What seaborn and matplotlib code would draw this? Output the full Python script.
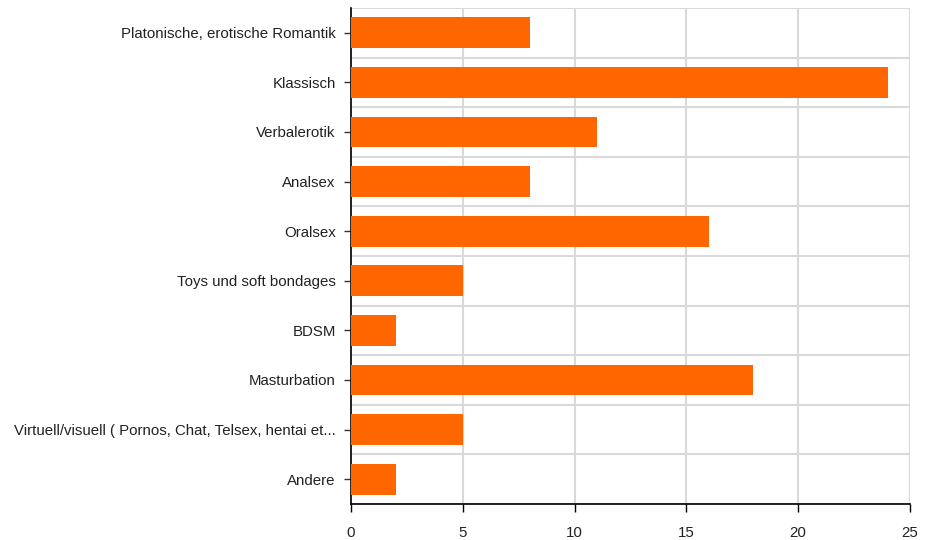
import matplotlib
matplotlib.use('Agg')
import matplotlib.pyplot as plt
import seaborn as sns
import pandas as pd
import numpy as np

categories = [
    'Platonische, erotische Romantik',
    'Klassisch',
    'Verbalerotik',
    'Analsex',
    'Oralsex',
    'Toys und soft bondages',
    'BDSM',
    'Masturbation',
    'Virtuell/visuell ( Pornos, Chat, Telsex, hentai et...',
    'Andere',
]
counts = [8, 24, 11, 8, 16, 5, 2, 18, 5, 2]
x_ticks = [0, 5, 10, 15, 20, 25]

sns.set_theme(style='white')
plt.rcParams['font.family'] = ['Liberation Sans', 'DejaVu Sans']

df = pd.DataFrame({'category': categories, 'count': counts})

fig = plt.figure(figsize=(9.33, 5.4), dpi=100)
ax = fig.add_axes([0.3762, 0.0667, 0.9753 - 0.3762, 0.9852 - 0.0667])

sns.barplot(data=df, x='count', y='category', color='#ff6600', saturation=1,
            width=0.62, linewidth=0, ax=ax, zorder=3)

ax.set_xlim(0, 25)
ax.set_ylim(len(categories) - 0.5, -0.5)
ax.set_xticks(x_ticks)
ax.set_yticks(np.arange(-0.5, len(categories), 1.0), minor=True)
ax.grid(True, axis='x', which='major', color='#d9d9d9', linewidth=1.5, zorder=0)
ax.grid(True, axis='y', which='minor', color='#d9d9d9', linewidth=1.5, zorder=0)
ax.grid(False, axis='y', which='major')
ax.set_axisbelow(True)

for side in ['top', 'right']:
    ax.spines[side].set_visible(False)
for side in ['left', 'bottom']:
    ax.spines[side].set_color('black')
    ax.spines[side].set_linewidth(1.2)

ax.tick_params(axis='y', which='major', left=True, length=5, width=1, color='#333333',
               pad=6, labelsize=10.8, labelcolor='#222222')
ax.tick_params(axis='y', which='minor', left=False)
ax.tick_params(axis='x', bottom=True, length=6, width=1, color='black',
               pad=10, labelsize=10.8, labelcolor='#222222')
ax.set_xlabel('')
ax.set_ylabel('')

fig.savefig('out.png', dpi=100)
